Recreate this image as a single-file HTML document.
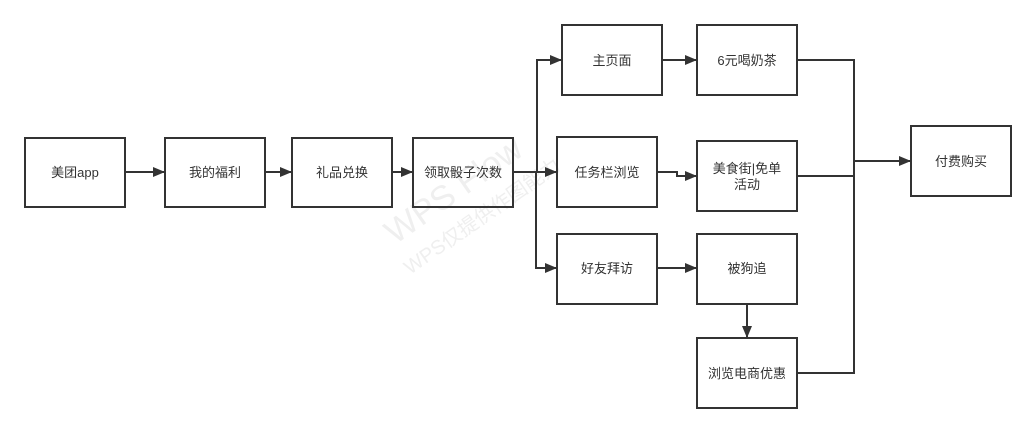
<!DOCTYPE html>
<html><head><meta charset="utf-8"><style>
html,body{margin:0;padding:0;background:#fff;}
svg text{font-family:"Liberation Sans","Noto Sans CJK SC",sans-serif;font-size:13px;fill:#333;}
</style></head><body>
<svg width="1036" height="433" viewBox="0 0 1036 433" xmlns="http://www.w3.org/2000/svg">
<defs><marker id="a" markerWidth="12" markerHeight="10" refX="11" refY="5" orient="auto" markerUnits="userSpaceOnUse"><path d="M0,0 L12,5 L0,10 Z" fill="#333"/></marker></defs>
<g>
<text x="0" y="0" transform="translate(395,245) rotate(-35)" style="font-size:34px;fill:#efefef">WPS Flow</text>
<text x="0" y="0" transform="translate(410,275) rotate(-35)" style="font-size:20px;fill:#efefef">WPS仅提供作图能力</text>
</g>
<g fill="none" stroke="#333" stroke-width="2">
<rect x="25" y="138" width="100" height="69"/>
<rect x="165" y="138" width="100" height="69"/>
<rect x="292" y="138" width="100" height="69"/>
<rect x="413" y="138" width="100" height="69"/>
<rect x="562" y="25" width="100" height="70"/>
<rect x="557" y="137" width="100" height="70"/>
<rect x="557" y="234" width="100" height="70"/>
<rect x="697" y="25" width="100" height="70"/>
<rect x="697" y="141" width="100" height="70"/>
<rect x="697" y="234" width="100" height="70"/>
<rect x="697" y="338" width="100" height="70"/>
<rect x="911" y="126" width="100" height="70"/>
</g>
<g fill="none" stroke="#333" stroke-width="2">
<path d="M125,172 H164" marker-end="url(#a)"/>
<path d="M265,172 H291" marker-end="url(#a)"/>
<path d="M392,172 H412" marker-end="url(#a)"/>
<path d="M513,172 H556" marker-end="url(#a)"/>
<path d="M537,172 V60 H561" marker-end="url(#a)"/>
<path d="M536,172 V268 H556" marker-end="url(#a)"/>
<path d="M662,60 H696" marker-end="url(#a)"/>
<path d="M657,172 H677 V176 H696" marker-end="url(#a)"/>
<path d="M657,268 H696" marker-end="url(#a)"/>
<path d="M747,304 V337" marker-end="url(#a)"/>
<path d="M797,60 H854 V373 H797"/>
<path d="M797,176 H854"/>
<path d="M854,161 H910" marker-end="url(#a)"/>
</g>
<g text-anchor="middle">
<text x="75" y="177">美团app</text>
<text x="215" y="177">我的福利</text>
<text x="342" y="177">礼品兑换</text>
<text x="463" y="177">领取骰子次数</text>
<text x="612" y="65">主页面</text>
<text x="607" y="177">任务栏浏览</text>
<text x="607" y="273">好友拜访</text>
<text x="747" y="65">6元喝奶茶</text>
<text x="747" y="173">美食街|免单</text>
<text x="747" y="189">活动</text>
<text x="747" y="273">被狗追</text>
<text x="747" y="378">浏览电商优惠</text>
<text x="961" y="166">付费购买</text>
</g>
</svg>
</body></html>
